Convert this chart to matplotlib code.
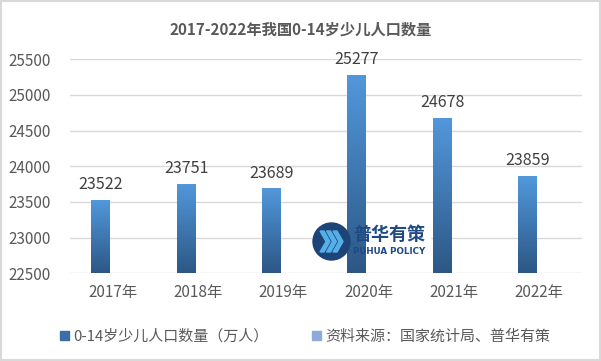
import matplotlib
matplotlib.use('Agg')
import matplotlib.pyplot as plt
import numpy as np
from matplotlib.patches import Rectangle, Circle, Polygon

plt.rcParams['font.family'] = ['Noto Sans CJK SC', 'DejaVu Sans']

years = ['2017年', '2018年', '2019年', '2020年', '2021年', '2022年']
population = [23522, 23751, 23689, 25277, 24678, 23859]
yticks = [22500, 23000, 23500, 24000, 24500, 25000, 25500]
title = '2017-2022年我国0-14岁少儿人口数量'
series_name = '0-14岁少儿人口数量（万人）'
source_name = '资料来源：国家统计局、普华有策'

text_color = '#595959'
grid_color = '#d9d9d9'
top_blue = np.array([0x52, 0x98, 0xdc]) / 255
bottom_blue = np.array([0x2c, 0x57, 0x85]) / 255

fig = plt.figure(figsize=(6.01, 3.61), dpi=100)

# overlay in pixel coordinates (border, watermark)
ov = fig.add_axes([0, 0, 1, 1], zorder=5)
ov.set_xlim(0, 601)
ov.set_ylim(361, 0)
ov.axis('off')
ov.patch.set_alpha(0)

ax = fig.add_axes([0.1165, 0.2429, 0.8519, 0.5928])

x = np.arange(len(years))
offset = -0.14
width = 0.22
ymin, ymax = 22500, 25500

bars = ax.bar(x + offset, [v - ymin for v in population], width=width,
              bottom=ymin, color='none', zorder=3)

# vertical gradient inside each bar
grad = np.linspace(0, 1, 256).reshape(-1, 1)
cmap = matplotlib.colors.LinearSegmentedColormap.from_list(
    'bar', [bottom_blue, top_blue])
for b in bars:
    bx, by = b.get_x(), b.get_y()
    bw, bh = b.get_width(), b.get_height()
    im = ax.imshow(grad, cmap=cmap, aspect='auto', origin='lower',
                   extent=(bx, bx + bw, by, by + bh), zorder=3)
    im.set_clip_path(b)

for xi, v in zip(x, population):
    ax.annotate(str(v), (xi + offset, v), xytext=(0, 5),
                textcoords='offset points', ha='center', va='bottom',
                fontsize=11.5, color='#404040')

ax.set_xlim(-0.5, len(years) - 0.5)
ax.set_ylim(ymin, ymax)
ax.set_yticks(yticks)
ax.set_xticks(x)
ax.set_xticklabels(years)
ax.tick_params(axis='both', length=0, labelsize=11, colors=text_color)
ax.tick_params(axis='y', pad=14)
ax.tick_params(axis='x', pad=8)
ax.grid(axis='y', color=grid_color, linewidth=1, zorder=0)
for s in ax.spines.values():
    s.set_visible(False)

# white box of the watermark hides the gridline but sits behind the bars
ax.add_patch(Rectangle((312, 222), 118, 38, color='white', zorder=2,
                       transform=ov.transData, clip_on=False))

fig.text(0.5, 0.917, title, ha='center', va='center', fontsize=11,
         fontweight='bold', color=text_color)

# legend
h1 = Rectangle((0, 0), 1, 1, color='#3a6ea5')
h2 = Rectangle((0, 0), 1, 1, color='#8eaadb')
fig.legend([h1, h2], [series_name, source_name], loc='center',
           bbox_to_anchor=(0.508, 0.068), ncol=2, frameon=False,
           fontsize=10.8, labelcolor=text_color, handlelength=0.6,
           handleheight=0.6, handletextpad=0.3, columnspacing=2.9)

ov.add_patch(Rectangle((1, 1), 599, 359, fill=False, edgecolor='#d9d9d9',
                       linewidth=1.5))

# watermark logo
ov.add_patch(Circle((331.5, 241.5), 18.5, color='#1d4477', zorder=2))
for dx in (0, 6.5, 13):
    pts = [(dx + 320, 231), (dx + 324, 231), (dx + 330, 241.5),
           (dx + 324, 252), (dx + 320, 252), (dx + 326, 241.5)]
    ov.add_patch(Polygon(pts, closed=True, color='#55b0e8', zorder=3))
ov.text(353, 234, '普华有策', fontsize=13, fontweight='bold',
        color='#1f4a85', ha='left', va='center', zorder=3)
ov.text(353, 252, 'PUHUA POLICY', fontsize=6.3, fontweight='bold',
        color='#1f4a85', ha='left', va='center', zorder=3,
        family='DejaVu Sans')

fig.savefig('out.png', dpi=100)
